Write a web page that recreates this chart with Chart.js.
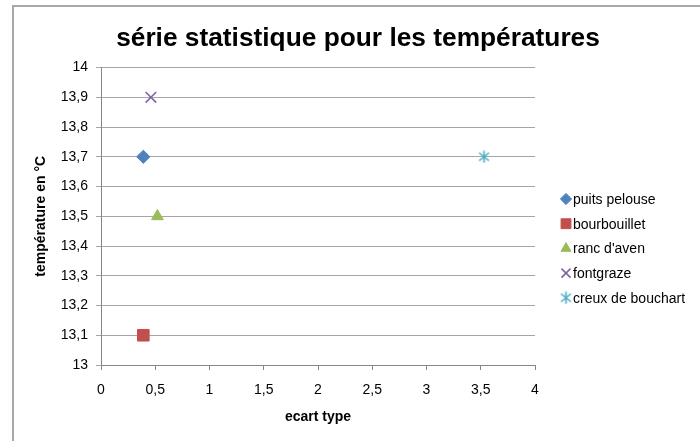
<!DOCTYPE html>
<html>
<head>
<meta charset="utf-8">
<script src="https://cdn.jsdelivr.net/npm/chart.js@4.4.1/dist/chart.umd.min.js"></script>
<style>
    html, body { margin: 0; padding: 0; background: #fff; overflow: hidden; }
    #frame {
        position: absolute; left: 12px; top: 5px; width: 720px; height: 460px;
        border-left: 2px solid #a8a8a8; border-top: 2px solid #a8a8a8;
    }
    #wrap { position: absolute; left: 0; top: 0; width: 700px; height: 441px; }
</style>
</head>
<body>
<div id="frame"></div>
<div id="wrap"><canvas id="chart1"></canvas></div>
<script>
// stations: ecart type (x) vs mean temperature (y)
const seriesNames = ['puits pelouse', 'bourbouillet', "ranc d'aven", 'fontgraze', 'creux de bouchart'];
const ecartType = [0.39, 0.39, 0.52, 0.46, 3.53];
const temperature = [13.7, 13.1, 13.5, 13.9, 13.7];

const colors = ['#4f81bd', '#c0504d', '#9bbb59', '#8064a2', '#4bacc6'];
const radii = [6.6, 8.2, 6.8, 7.5, 6];

const FONT = "'Liberation Sans', Arial, sans-serif";

// excel style star: an X with a vertical bar through it
function starMarker(color) {
    const c = document.createElement('canvas');
    c.width = 13;
    c.height = 13;
    const g = c.getContext('2d');
    g.strokeStyle = color;
    g.lineWidth = 1.6;
    g.beginPath();
    g.moveTo(1.5, 2.5); g.lineTo(11.5, 10.5);
    g.moveTo(11.5, 2.5); g.lineTo(1.5, 10.5);
    g.moveTo(6.5, 0.5); g.lineTo(6.5, 12.5);
    g.stroke();
    return c;
}

const markers = ['rectRot', 'rect', 'triangle', 'crossRot', starMarker(colors[4])];

// comma decimals, like the french spreadsheet
function frNum(v) {
    return String(Math.round(v * 10) / 10).replace('.', ',');
}

// legend drawn by hand so it can sit where it should
const sideLegend = {
    id: 'sideLegend',
    afterDraw(chart) {
        const ctx = chart.ctx;
        const x = chart.chartArea.right + 31;
        const y0 = 199;
        const step = 24.7;
        ctx.save();
        chart.data.datasets.forEach((ds, i) => {
            const y = y0 + i * step;
            ctx.fillStyle = ds.backgroundColor;
            ctx.strokeStyle = ds.borderColor;
            ctx.lineWidth = ds.borderWidth;
            Chart.helpers.drawPoint(ctx, {
                pointStyle: ds.pointStyle,
                radius: ds.pointRadius * 0.85,
                borderWidth: ds.borderWidth,
                rotation: 0
            }, x, y);
            ctx.fillStyle = '#000';
            ctx.font = '14px ' + FONT;
            ctx.textAlign = 'left';
            ctx.textBaseline = 'middle';
            ctx.fillText(ds.label, x + 7, y + 1);
        });
        ctx.restore();
    }
};

const datasets = seriesNames.map((name, i) => ({
    label: name,
    data: [{ x: ecartType[i], y: temperature[i] }],
    pointStyle: markers[i],
    pointRadius: radii[i],
    pointHoverRadius: radii[i],
    backgroundColor: colors[i],
    borderColor: colors[i],
    borderWidth: markers[i] === 'crossRot' ? 1.6 : 1
}));

let chart1 = new Chart(document.getElementById('chart1'), {
    type: 'scatter',
    data: { datasets: datasets },
    options: {
        responsive: true,
        maintainAspectRatio: false,
        animation: false,
        events: [],
        layout: { padding: { left: 16, right: 0, top: 0, bottom: 0 } },
        plugins: {
            legend: { display: false },
            tooltip: { enabled: false },
            title: {
                display: true,
                text: 'série statistique pour les températures',
                color: '#000',
                font: { family: FONT, size: 26.3, weight: 'bold' },
                padding: { top: 23, bottom: 13 }
            }
        },
        scales: {
            x: {
                type: 'linear',
                min: 0,
                max: 4,
                afterFit: s => { s.height = 76; },
                ticks: {
                    stepSize: 0.5,
                    color: '#000',
                    padding: 12,
                    font: { family: FONT, size: 14 },
                    callback: v => frNum(v)
                },
                grid: { drawOnChartArea: false, drawTicks: true, tickLength: 5, color: '#868686' },
                border: { color: '#868686', width: 1 },
                title: {
                    display: true,
                    text: 'ecart type',
                    color: '#000',
                    font: { family: FONT, size: 14, weight: 'bold' },
                    padding: { top: 0, bottom: 15 }
                }
            },
            y: {
                type: 'linear',
                min: 13,
                max: 14,
                afterFit: s => { s.width = 85; },
                ticks: {
                    stepSize: 0.1,
                    color: '#000',
                    padding: 8,
                    font: { family: FONT, size: 14 },
                    callback: v => frNum(v)
                },
                grid: { color: '#a6a6a6', lineWidth: 1, tickLength: 5 },
                border: { color: '#868686', width: 1 },
                title: {
                    display: true,
                    text: 'température en °C',
                    color: '#000',
                    font: { family: FONT, size: 14, weight: 'bold' },
                    padding: { top: 17, bottom: 0 }
                }
            },
            // empty right-hand band that holds the legend
            side: {
                type: 'linear',
                position: 'right',
                display: true,
                afterFit: s => { s.width = 165; },
                ticks: { display: false },
                grid: { display: false },
                border: { display: false }
            }
        }
    },
    plugins: [sideLegend]
});
</script>
</body>
</html>
